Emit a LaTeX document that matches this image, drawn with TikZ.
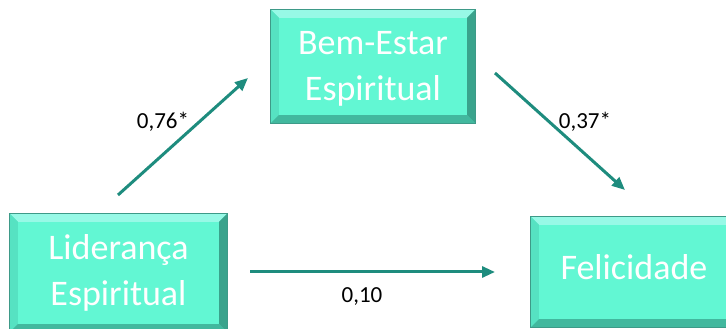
\documentclass[tikz,border=0pt]{standalone}
\usepackage{fontspec}
\setmainfont{Carlito}
\usetikzlibrary{arrows.meta}
\definecolor{boxfill}{HTML}{62F7D3}
\definecolor{bevT}{HTML}{97F9E6}
\definecolor{bevL}{HTML}{56E2C2}
\definecolor{bevB}{HTML}{42B89E}
\definecolor{bevR}{HTML}{3AA38C}
\definecolor{boxline}{HTML}{3E9A88}
\definecolor{arrowcol}{HTML}{1E8C7E}
\tikzset{
  x=1pt,y=1pt,
  bevbox/.style={rectangle, fill=boxfill, inner sep=0pt, align=center,
    text=white, font=\fontsize{36}{46}\selectfont},
  lbl/.style={font=\fontsize{23}{27}\selectfont, text=black, inner sep=1pt},
  conn/.style={draw=arrowcol, line width=3pt,
    -{Triangle[length=13pt,width=11pt]}},
}
\newcommand\bevelof[1]{%
  \fill[bevT] (#1.north west) -- (#1.north east) -- ([shift={(-8,-8)}]#1.north east) -- ([shift={(8,-8)}]#1.north west) -- cycle;
  \fill[bevL] (#1.north west) -- (#1.south west) -- ([shift={(8,8)}]#1.south west) -- ([shift={(8,-8)}]#1.north west) -- cycle;
  \fill[bevB] (#1.south west) -- (#1.south east) -- ([shift={(-8,8)}]#1.south east) -- ([shift={(8,8)}]#1.south west) -- cycle;
  \fill[bevR] (#1.north east) -- (#1.south east) -- ([shift={(-8,8)}]#1.south east) -- ([shift={(-8,-8)}]#1.north east) -- cycle;
  \draw[boxline, line width=0.8pt] (#1.north west) rectangle (#1.south east);
}
\begin{document}
\begin{tikzpicture}
\useasboundingbox (0,0) rectangle (726,329);
\clip (0,0) rectangle (726,329);
% boxes
\node[bevbox, minimum width=204, minimum height=113] (bes) at (373,262.5) {};
\node[bevbox, minimum width=217, minimum height=118] (lid) at (118.5,56) {};
\node[bevbox, minimum width=206, minimum height=110] (fel) at (634,57) {};
\bevelof{bes}
\bevelof{lid}
\bevelof{fel}
\node[bevbox, fill=none] (besT) at ([yshift=-2]bes) {Bem-Estar\\Espiritual};
\node[bevbox, fill=none] (lidT) at (lid) {Liderança\\Espiritual};
\node[bevbox, fill=none] (felT) at ([yshift=5]fel) {Felicidade};
% connector end points
\coordinate (a1s) at (118,134);
\coordinate (a1e) at (248,251);
\coordinate (a2s) at (495,256);
\coordinate (a2e) at (625,139);
\coordinate (a3s) at (250,57);
\coordinate (a3e) at (495,57);
% labels
\node[lbl] (l1) at (163,207) {0,76*};
\node[lbl] (l2) at (585,207) {0,37*};
\node[lbl] (l3) at (362,32) {0,10};
% arrows
\draw[conn] (a1s) -- (a1e);
\draw[conn] (a2s) -- (a2e);
\draw[conn] (a3s) -- (a3e);
\end{tikzpicture}
\end{document}
